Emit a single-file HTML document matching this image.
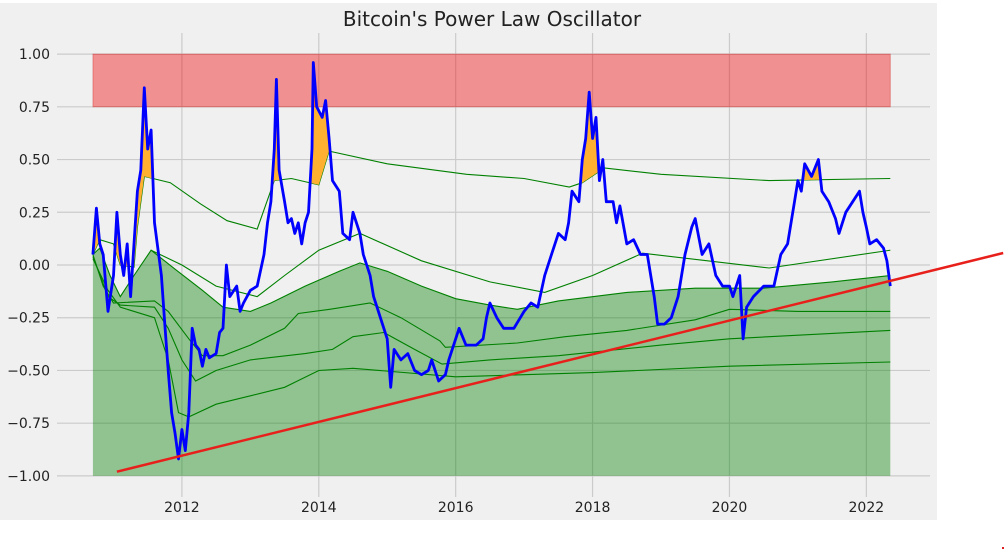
<!DOCTYPE html>
<html><head><meta charset="utf-8">
<style>
html,body{margin:0;padding:0;background:#fff;width:1006px;height:552px;overflow:hidden;font-family:"DejaVu Sans","Liberation Sans",sans-serif;}
svg{display:block}
</style></head>
<body>
<svg id="chart" width="1006" height="552" xmlns="http://www.w3.org/2000/svg">
<rect x="0" y="3" width="937" height="517" fill="#f0f0f0"/>
<text x="492" y="26" text-anchor="middle" font-size="20" fill="#222">Bitcoin's Power Law Oscillator</text>
<g id="grid"></g>
<g id="marks"></g>
<g id="ticks"></g>
<rect x="1002" y="547" width="2" height="2" fill="#e02020"/>
</svg>
<script>
const blueYears=[2010.7,2010.75,2010.8,2010.85,2010.92,2011.0,2011.05,2011.1,2011.15,2011.2,2011.25,2011.3,2011.35,2011.4,2011.45,2011.5,2011.55,2011.6,2011.7,2011.75,2011.8,2011.85,2011.9,2011.95,2012.0,2012.05,2012.1,2012.15,2012.2,2012.25,2012.3,2012.35,2012.4,2012.5,2012.55,2012.6,2012.65,2012.7,2012.8,2012.85,2012.9,2013.0,2013.1,2013.2,2013.25,2013.3,2013.35,2013.38,2013.42,2013.5,2013.55,2013.6,2013.65,2013.7,2013.75,2013.8,2013.85,2013.9,2013.92,2013.97,2014.05,2014.1,2014.15,2014.2,2014.3,2014.35,2014.45,2014.5,2014.6,2014.65,2014.75,2014.8,2014.9,2015.0,2015.05,2015.1,2015.2,2015.3,2015.4,2015.5,2015.6,2015.65,2015.75,2015.85,2015.9,2016.0,2016.05,2016.15,2016.3,2016.4,2016.45,2016.5,2016.6,2016.7,2016.85,2017.0,2017.1,2017.2,2017.3,2017.4,2017.5,2017.6,2017.65,2017.7,2017.8,2017.85,2017.9,2017.95,2018.0,2018.05,2018.1,2018.15,2018.2,2018.3,2018.35,2018.4,2018.5,2018.6,2018.7,2018.8,2018.9,2018.95,2019.05,2019.15,2019.25,2019.35,2019.45,2019.5,2019.6,2019.7,2019.8,2019.9,2020.0,2020.05,2020.15,2020.2,2020.25,2020.35,2020.5,2020.65,2020.75,2020.85,2020.95,2021.0,2021.05,2021.1,2021.2,2021.3,2021.35,2021.45,2021.55,2021.6,2021.7,2021.8,2021.9,2021.95,2022.0,2022.05,2022.15,2022.25,2022.3,2022.35];
const blueVals=[0.05,0.27,0.1,0.05,-0.22,-0.05,0.25,0.05,-0.05,0.1,-0.15,0.1,0.35,0.45,0.84,0.55,0.64,0.2,-0.05,-0.28,-0.5,-0.7,-0.8,-0.92,-0.78,-0.88,-0.7,-0.3,-0.38,-0.4,-0.48,-0.4,-0.44,-0.42,-0.32,-0.3,0.0,-0.15,-0.1,-0.22,-0.18,-0.12,-0.1,0.05,0.2,0.3,0.55,0.88,0.45,0.3,0.2,0.22,0.15,0.2,0.1,0.2,0.25,0.55,0.96,0.75,0.7,0.78,0.6,0.4,0.35,0.15,0.12,0.25,0.15,0.05,-0.05,-0.15,-0.25,-0.35,-0.58,-0.4,-0.45,-0.42,-0.5,-0.52,-0.5,-0.45,-0.55,-0.52,-0.45,-0.35,-0.3,-0.38,-0.38,-0.35,-0.25,-0.18,-0.25,-0.3,-0.3,-0.22,-0.18,-0.2,-0.05,0.05,0.15,0.12,0.2,0.35,0.3,0.5,0.6,0.82,0.6,0.7,0.4,0.5,0.3,0.3,0.2,0.28,0.1,0.12,0.05,0.05,-0.15,-0.28,-0.28,-0.25,-0.15,0.05,0.18,0.22,0.05,0.1,-0.05,-0.1,-0.1,-0.15,-0.05,-0.35,-0.2,-0.15,-0.1,-0.1,0.05,0.1,0.3,0.4,0.35,0.48,0.42,0.5,0.35,0.3,0.22,0.15,0.25,0.3,0.35,0.25,0.18,0.1,0.12,0.08,0.02,-0.1];
const topYears=[2010.7,2010.8,2011.0,2011.1,2011.3,2011.35,2011.45,2011.83,2012.27,2012.66,2013.1,2013.35,2013.6,2014.0,2014.15,2015.0,2016.16,2017.0,2017.66,2017.85,2018.17,2019.0,2020.58,2022.35];
const topVals=[0.05,0.12,0.1,0.0,-0.01,0.18,0.42,0.39,0.29,0.21,0.17,0.4,0.41,0.38,0.54,0.48,0.43,0.41,0.37,0.39,0.46,0.43,0.40,0.41];
const bandBYears=[2011.55,2012.0,2012.5,2013.1,2013.5,2014.0,2014.6,2015.5,2016.5,2017.3,2018.0,2018.73,2020.58,2022.35];
const bandBVals=[0.07,0.0,-0.1,-0.15,-0.05,0.07,0.15,0.02,-0.08,-0.13,-0.05,0.056,-0.014,0.07];
const fillYears=[2010.7,2010.8,2010.95,2011.1,2011.3,2011.55,2011.9,2012.3,2012.6,2013.0,2013.3,2013.8,2014.3,2014.6,2015.0,2015.5,2016.0,2016.5,2016.9,2017.5,2018.5,2019.5,2020.5,2021.5,2022.35];
const fillVals=[0.05,0.08,-0.05,-0.15,-0.05,0.07,-0.02,-0.12,-0.2,-0.22,-0.18,-0.1,-0.03,0.01,-0.03,-0.1,-0.16,-0.19,-0.21,-0.17,-0.13,-0.11,-0.11,-0.08,-0.05];
const bandCYears=[2010.7,2010.85,2011.0,2011.6,2011.8,2012.1,2012.3,2012.6,2013.0,2013.5,2013.7,2014.16,2014.75,2015.2,2015.77,2015.85,2016.9,2017.6,2018.5,2019.5,2020.0,2021,2022.35];
const bandCVals=[0.05,-0.1,-0.18,-0.17,-0.22,-0.35,-0.43,-0.43,-0.38,-0.3,-0.23,-0.21,-0.18,-0.25,-0.36,-0.39,-0.37,-0.34,-0.31,-0.26,-0.21,-0.22,-0.22];
const bandDYears=[2010.7,2010.92,2011.1,2011.6,2011.8,2012.0,2012.2,2012.5,2013.0,2013.8,2014.2,2014.5,2014.95,2015.4,2015.8,2016.5,2017.5,2019.0,2020.0,2022.35];
const bandDVals=[0.04,-0.15,-0.19,-0.2,-0.3,-0.45,-0.55,-0.5,-0.45,-0.42,-0.4,-0.34,-0.32,-0.4,-0.47,-0.45,-0.43,-0.38,-0.35,-0.31];
const bandEYears=[2010.7,2010.92,2011.1,2011.6,2011.8,2011.95,2012.1,2012.5,2013.0,2013.5,2014.0,2014.5,2016.0,2018.0,2020.0,2022.35];
const bandEVals=[0.03,-0.12,-0.2,-0.25,-0.45,-0.7,-0.72,-0.66,-0.62,-0.58,-0.5,-0.49,-0.53,-0.51,-0.48,-0.46];
const trendYears=[2011.05,2024.0];
const trendVals=[-0.98,0.057];
const zoneLow=[0.75];const zoneHigh=[1.0];const zoneYears=[2010.7,2022.35];
const yTicks=[1.0,0.75,0.5,0.25,0.0,-0.25,-0.5,-0.75,-1.0];
const yTickLabels=["1.00","0.75","0.50","0.25","0.00","\u22120.25","\u22120.50","\u22120.75","\u22121.00"];
const xTicks=[2012,2014,2016,2018,2020,2022];
const xTickLabels=["2012","2014","2016","2018","2020","2022"];

const L=57,R=930,T=33,B=497,X0=2010.175,X1=2022.93,Y0=-1.1,Y1=1.1;
const sx=v=>L+(v-X0)/(X1-X0)*(R-L);
const sy=v=>B-(v-Y0)/(Y1-Y0)*(B-T);
const NS='http://www.w3.org/2000/svg';
function mk(tag,attrs,parent){const e=document.createElementNS(NS,tag);for(const k in attrs)e.setAttribute(k,attrs[k]);parent.appendChild(e);return e;}
const grid=document.getElementById('grid'),marks=document.getElementById('marks'),ticks=document.getElementById('ticks');
yTicks.forEach((v,i)=>{
  const g=mk('line',{x1:L,x2:R,y1:sy(v),y2:sy(v),stroke:'#cbcbcb','stroke-width':1.2},grid);
  
  
  const t=mk('text',{x:50,y:sy(v)+5,'text-anchor':'end','font-size':14,fill:'#222'},ticks);
  
  
  t.textContent=yTickLabels[i];
});
xTicks.forEach((v,i)=>{
  const g=mk('line',{x1:sx(v),x2:sx(v),y1:T,y2:B,stroke:'#cbcbcb','stroke-width':1.2},grid);
  
  
  const t=mk('text',{x:sx(v),y:512,'text-anchor':'middle','font-size':14,fill:'#222'},ticks);
  
  
  t.textContent=xTickLabels[i];
});
function pts(xs,ys){return xs.map((x,i)=>sx(x).toFixed(1)+','+sy(ys[i]).toFixed(1)).join(' ');}
function interp(xs,ys,x){if(x<=xs[0])return ys[0];for(let i=1;i<xs.length;i++){if(x<=xs[i]){const t=(x-xs[i-1])/(xs[i]-xs[i-1]);return ys[i-1]+t*(ys[i]-ys[i-1]);}}return ys[ys.length-1];}
const fp=pts(fillYears,fillVals)+' '+sx(fillYears[fillYears.length-1])+','+sy(-1)+' '+sx(fillYears[0])+','+sy(-1);
const gf=mk('polygon',{points:fp,fill:'rgba(0,128,0,0.4)'},marks);


[[topYears,topVals,'top-band-line'],[bandBYears,bandBVals,'band-b-line'],[fillYears,fillVals,'fill-top-line'],[bandCYears,bandCVals,'band-c-line'],[bandDYears,bandDVals,'band-d-line'],[bandEYears,bandEVals,'band-e-line']].forEach(s=>{
  const l=mk('polyline',{points:pts(s[0],s[1]),fill:'none',stroke:'#008000','stroke-width':1.1},marks);
  
  
});
const xsAll=[...new Set([...blueYears,...topYears])].filter(x=>x>=blueYears[0]&&x<=blueYears[blueYears.length-1]).sort((a,b)=>a-b);
const fine=[];for(let i=0;i<xsAll.length-1;i++){for(let k=0;k<8;k++)fine.push(xsAll[i]+(xsAll[i+1]-xsAll[i])*k/8);}fine.push(xsAll[xsAll.length-1]);
const up=fine.map(x=>Math.max(interp(blueYears,blueVals,x),interp(topYears,topVals,x)));
const lo=fine.map(x=>interp(topYears,topVals,x));
const op=fine.map((x,i)=>sx(x).toFixed(1)+','+sy(up[i]).toFixed(1)).join(' ')+' '+fine.slice().reverse().map((x,i)=>sx(x).toFixed(1)+','+sy(lo[fine.length-1-i]).toFixed(1)).join(' ');
const of=mk('polygon',{points:op,fill:'#ffb030'},marks);


const rz=mk('rect',{x:sx(zoneYears[0]),y:sy(zoneHigh[0]),width:sx(zoneYears[1])-sx(zoneYears[0]),height:sy(zoneLow[0])-sy(zoneHigh[0]),fill:'rgba(240,0,0,0.4)',stroke:'rgba(200,0,0,0.3)'},marks);


const bl=mk('polyline',{points:pts(blueYears,blueVals),fill:'none',stroke:'#0000ff','stroke-width':2.8,'stroke-linejoin':'round'},marks);


const tl=mk('polyline',{points:pts(trendYears,trendVals),fill:'none',stroke:'#e8201c','stroke-width':2.5},marks);


</script>
</body></html>
